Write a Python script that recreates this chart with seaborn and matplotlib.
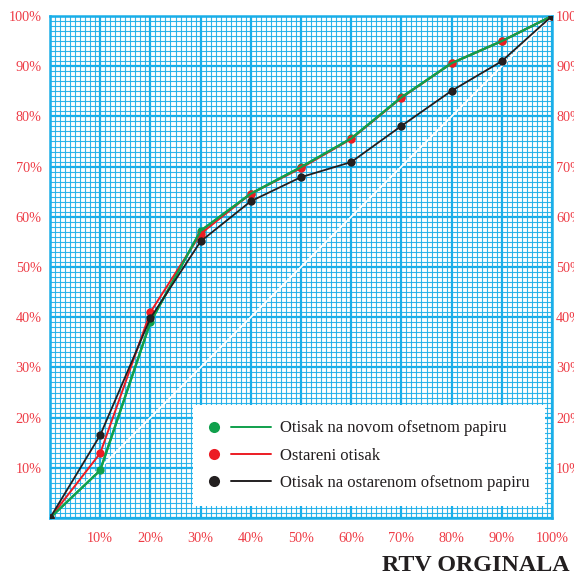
import matplotlib
matplotlib.use("Agg")
import matplotlib.pyplot as plt
import seaborn as sns
import pandas as pd
from matplotlib.lines import Line2D
from matplotlib.legend_handler import HandlerBase

# ---- data ----
x_pct = [0, 10, 20, 30, 40, 50, 60, 70, 80, 90, 100]
novi = [0, 9.5, 39.0, 57.2, 64.6, 69.9, 75.6, 83.8, 90.6, 95.0, 100]
ostareni = [0, 12.9, 41.0, 56.6, 64.6, 69.7, 75.5, 83.7, 90.6, 95.0, 100]
ostareni_papir = [0, 16.5, 39.8, 55.1, 63.1, 67.9, 70.9, 78.1, 85.1, 91.0, 100]
labels = ["Otisak na novom ofsetnom papiru", "Ostareni otisak",
          "Otisak na ostarenom ofsetnom papiru"]
tick_vals = [0, 10, 20, 30, 40, 50, 60, 70, 80, 90, 100]
tick_labels = [""] + [f"{v}%" for v in tick_vals[1:]]

GREEN = "#10a04c"
RED = "#ec1c24"
BLACK = "#231f20"
BLUE = "#1aaee8"
LABEL_RED = "#ee3c46"

sns.set_theme(style="white")
plt.rcParams["font.family"] = ["Liberation Serif", "DejaVu Serif"]

fig = plt.figure(figsize=(5.74, 5.75), dpi=100)
ax = fig.add_axes([50 / 574, 1 - 518 / 575, 502 / 574, 502 / 575])

ax.set_xlim(0, 100)
ax.set_ylim(0, 100)
ax.set_xticks(tick_vals)
ax.set_yticks(tick_vals)
ax.set_xticks(range(0, 101, 1), minor=True)
ax.set_yticks(range(0, 101, 1), minor=True)
ax.grid(which="minor", color=BLUE, lw=0.8, alpha=0.9)
ax.grid(which="major", color=BLUE, lw=1.6)
ax.set_axisbelow(True)
for s in ax.spines.values():
    s.set_color(BLUE)
    s.set_linewidth(1.8)

ax.set_xticklabels(tick_labels)
ax.set_yticklabels(tick_labels)
ax.tick_params(which="both", length=0)
ax.tick_params(axis="x", pad=10, labelsize=10.3, labelcolor=LABEL_RED)
ax.tick_params(axis="y", pad=6, labelsize=10.3, labelcolor=LABEL_RED)

sec = ax.secondary_yaxis("right")
sec.set_yticks(tick_vals)
sec.set_yticklabels(tick_labels)
sec.tick_params(length=0, pad=3, labelsize=10.3, labelcolor=LABEL_RED)
sec.spines["right"].set_visible(False)

# diagonal reference
ax.plot([0, 100], [0, 100], color="white", lw=1.3, zorder=2)

df = pd.DataFrame({"x": x_pct, "novi": novi, "ostareni": ostareni,
                   "papir": ostareni_papir})

sns.lineplot(data=df, x="x", y="novi", color=GREEN, lw=1.6, marker="o",
             markersize=6, markeredgewidth=0, ax=ax, zorder=3)
sns.lineplot(data=df, x="x", y="ostareni", color=RED, lw=1.4, marker="o",
             markersize=6, markeredgewidth=0, ax=ax, zorder=4)
sns.lineplot(data=df, x="x", y="novi", color=GREEN, lw=1.6, ax=ax, zorder=4.5)
sns.lineplot(data=df, x="x", y="papir", color=BLACK, lw=1.3, marker="o",
             markersize=6, markeredgewidth=0, ax=ax, zorder=5)
ax.set_xlabel("")
ax.set_ylabel("")


class MarkerLineHandler(HandlerBase):
    def create_artists(self, legend, orig_handle, xdescent, ydescent,
                       width, height, fontsize, trans):
        c = orig_handle.get_color()
        y = height / 2 - ydescent
        m = Line2D([-xdescent + 0.09 * width], [y], marker="o", color=c,
                   markersize=8, markeredgewidth=0, linestyle="none",
                   transform=trans)
        ln = Line2D([-xdescent + 0.37 * width, -xdescent + width], [y, y],
                    color=c, lw=1.4, transform=trans)
        return [m, ln]


handles = [Line2D([], [], color=GREEN), Line2D([], [], color=RED),
           Line2D([], [], color=BLACK)]
leg = ax.legend(handles, labels, loc="lower left",
                bbox_to_anchor=((193 - 50) / 502, (518 - 506) / 502),
                borderaxespad=0, fontsize=12.0, frameon=True, fancybox=False,
                framealpha=1, edgecolor="none", facecolor="white",
                handlelength=3.75, handletextpad=0.6, labelspacing=0.68,
                borderpad=0.9,
                handler_map={Line2D: MarkerLineHandler()})
for t in leg.get_texts():
    t.set_color("#231f20")
leg.set_zorder(10)

fig.text(570 / 574, 1 - 571 / 575, "RTV ORGINALA", ha="right", va="baseline",
         fontsize=17.3, fontweight="bold", color="#231f20")

fig.savefig("out.png", dpi=100)
